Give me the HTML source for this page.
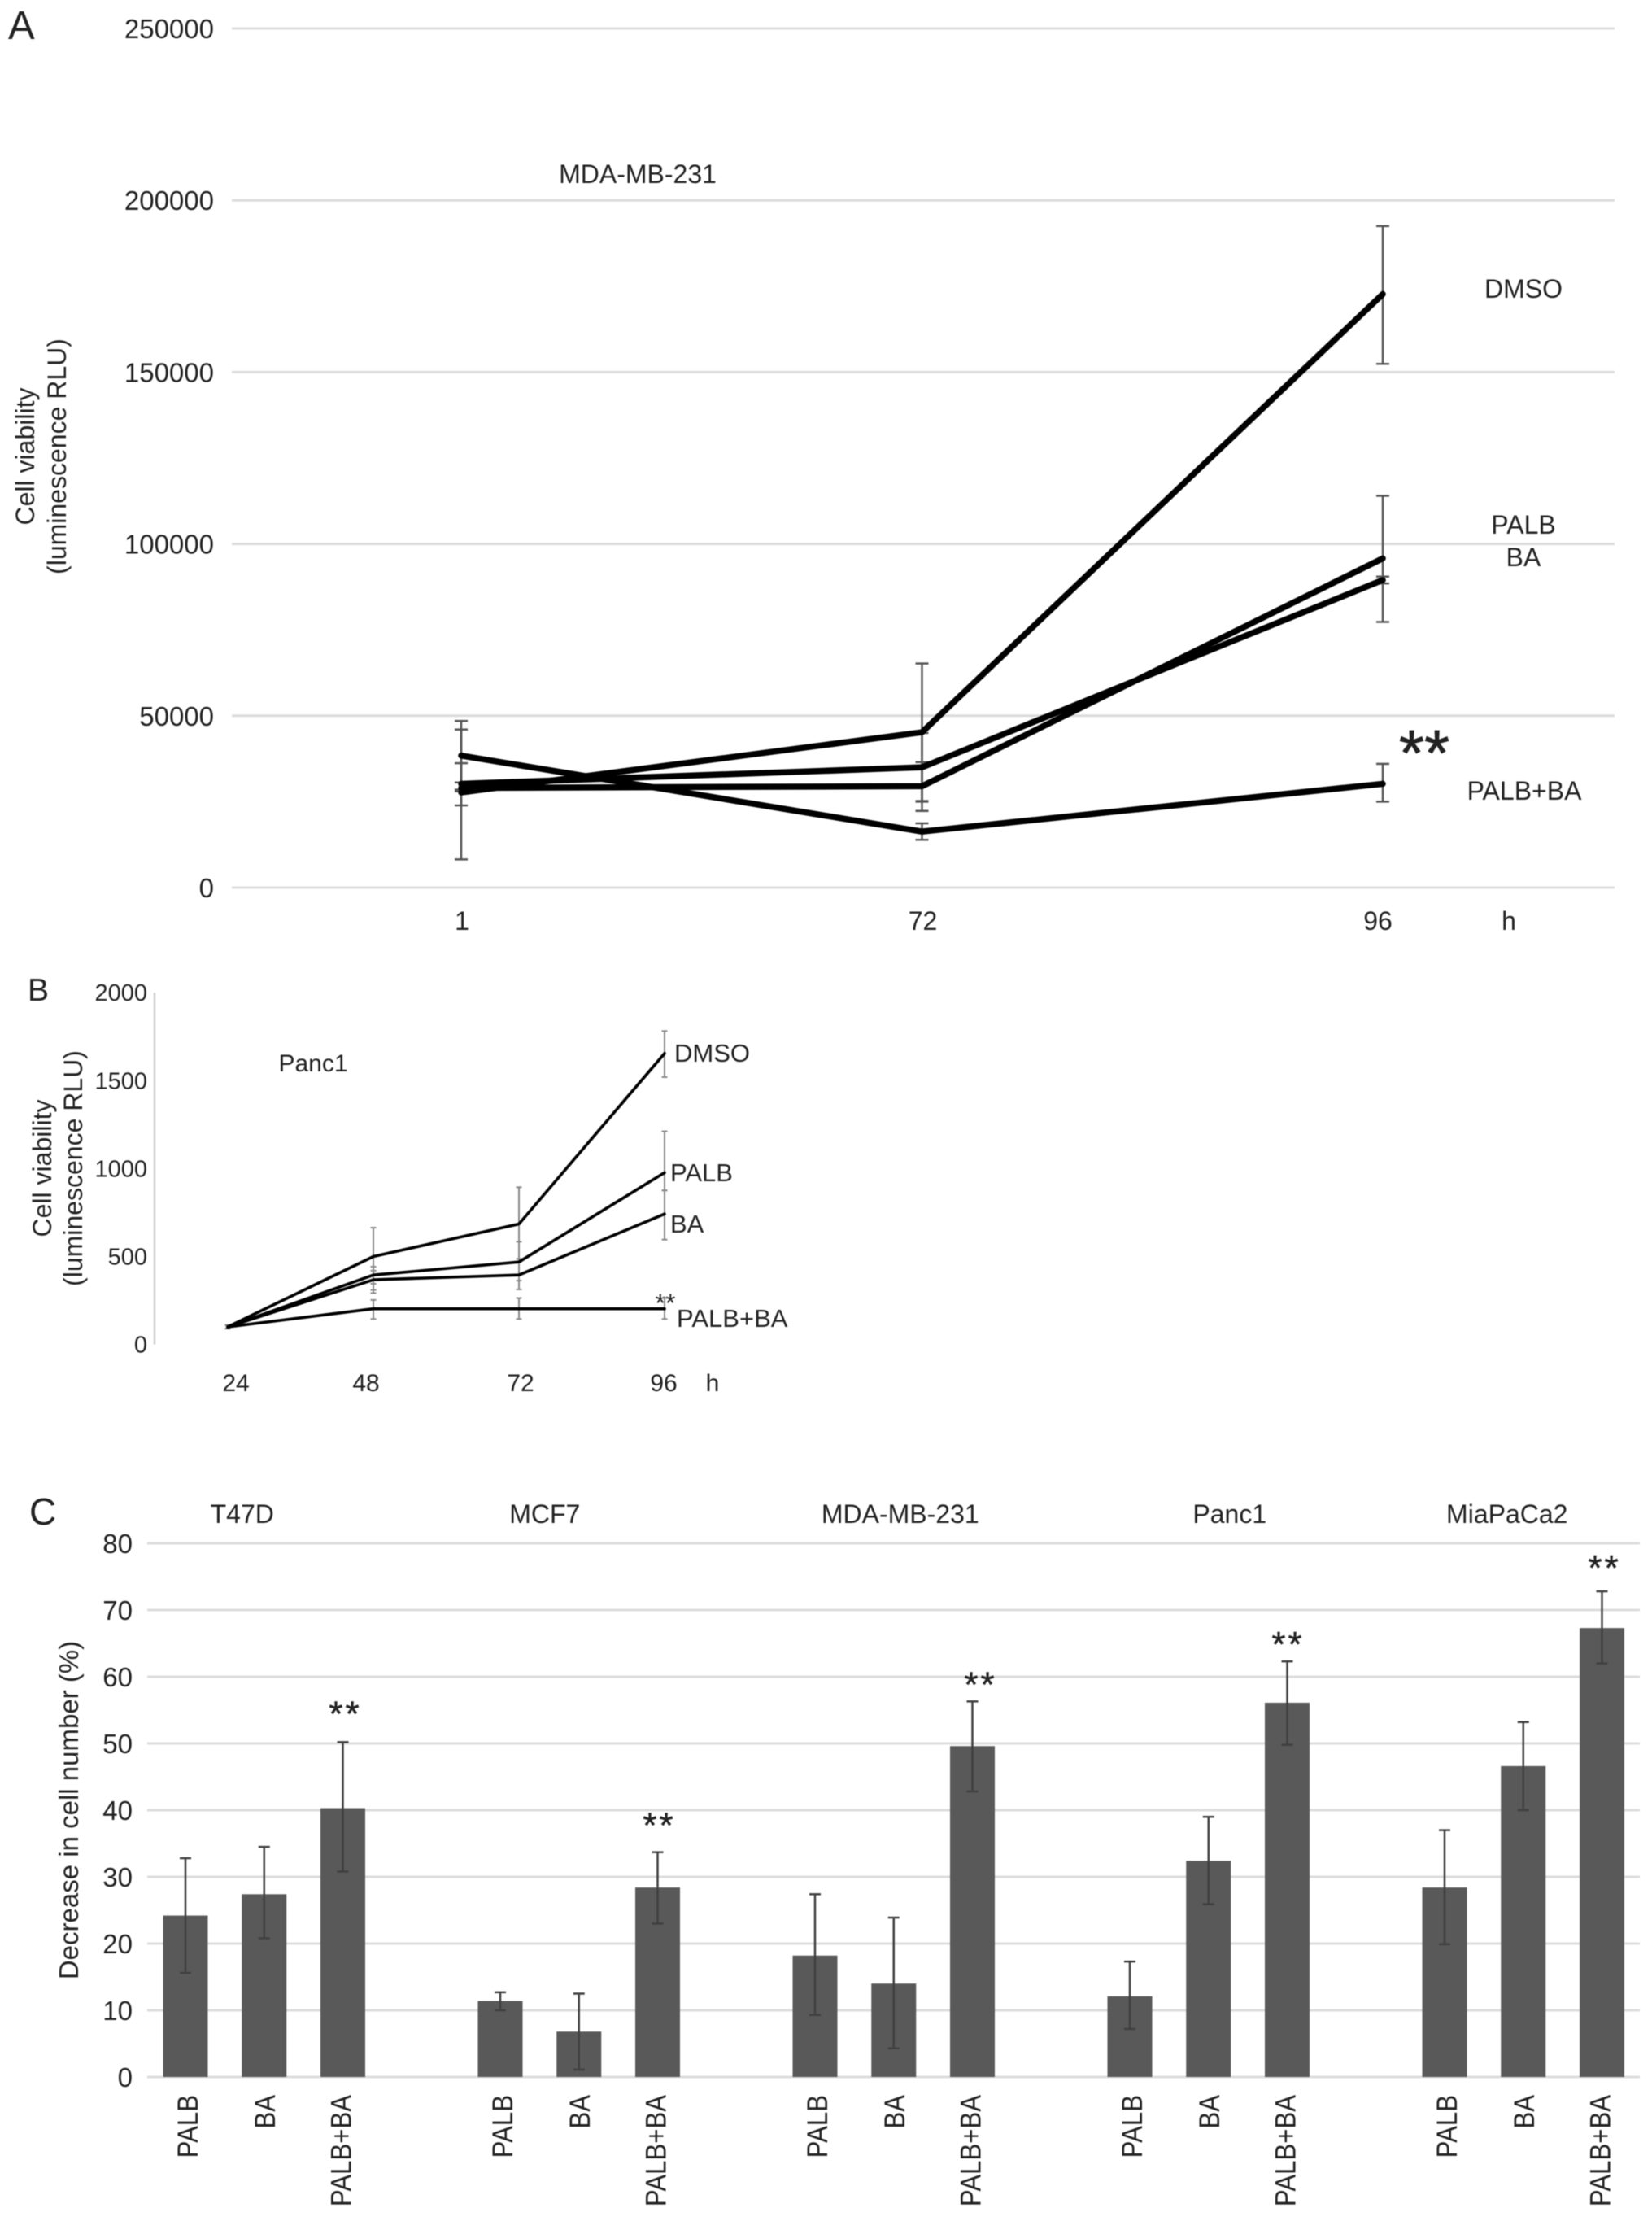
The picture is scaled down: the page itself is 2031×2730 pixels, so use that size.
<!DOCTYPE html>
<html lang="en">
<head>
<meta charset="utf-8">
<title>Cell viability and cell number charts</title>
<style>
  html, body { margin: 0; padding: 0; background: #fff; }
  svg { display: block; filter: blur(0.6px); }
  text { font-family: "Liberation Sans", Arial, sans-serif; fill: #222; }
</style>
</head>
<body>
<svg id="figure" xmlns="http://www.w3.org/2000/svg" width="2031" height="2730" viewBox="0 0 2031 2730">
  <rect x="0" y="0" width="2031" height="2730" fill="#fff"/>

  <g id="panelA">
    <text x="10" y="48" font-size="49">A</text>
    <text x="784" y="225" font-size="32" text-anchor="middle">MDA-MB-231</text>
    <text x="42" y="561" font-size="32" text-anchor="middle" transform="rotate(-90 42 561)">Cell viability</text>
    <text x="81" y="561" font-size="32" text-anchor="middle" transform="rotate(-90 81 561)">(luminescence RLU)</text>
    <text x="1873" y="366" font-size="32" text-anchor="middle">DMSO</text>
    <text x="1873" y="656" font-size="32" text-anchor="middle">PALB</text>
    <text x="1873" y="696" font-size="32" text-anchor="middle">BA</text>
    <text x="1874" y="983" font-size="32" text-anchor="middle">PALB+BA</text>
    <text x="1751" y="953" font-size="80" text-anchor="middle" stroke="#222" stroke-width="0.8">**</text>
    <text x="1855" y="1143" font-size="32" text-anchor="middle">h</text>
  </g>

  <g id="panelB">
    <text x="34" y="1230" font-size="39">B</text>
    <text x="385" y="1317" font-size="30" text-anchor="middle">Panc1</text>
    <text x="63" y="1436" font-size="32" text-anchor="middle" transform="rotate(-90 63 1436)">Cell viability</text>
    <text x="101" y="1436" font-size="32" text-anchor="middle" transform="rotate(-90 101 1436)">(luminescence RLU)</text>
    <text x="829" y="1305" font-size="31">DMSO</text>
    <text x="824" y="1452" font-size="31">PALB</text>
    <text x="824" y="1515" font-size="31">BA</text>
    <text x="832" y="1631" font-size="31">PALB+BA</text>
    <text x="818" y="1613" font-size="32" text-anchor="middle">**</text>
    <text x="876" y="1710" font-size="30" text-anchor="middle">h</text>
  </g>

  <g id="panelC">
    <text x="36" y="1874" font-size="46">C</text>
    <text x="96" y="2225" font-size="33" text-anchor="middle" transform="rotate(-90 96 2225)">Decrease in cell number (%)</text>
  </g>
</svg>

<script>
// ---------- Panel A data ----------
const aHours = ['1', '72', '96'];
const aTicks = [0, 50000, 100000, 150000, 200000, 250000];
const aDmso = [27700, 45200, 172700];
const aDmsoHigh = [46000, 65200, 192500];
const aDmsoLow = [8200, 25200, 152400];
const aPalb = [29000, 29500, 95800];
const aPalbHigh = [36200, 36500, 114000];
const aPalbLow = [23900, 22300, 77300];
const aBa = [30200, 35000, 89500];
const aBaHigh = [30600, 45000, 90500];
const aBaLow = [28000, 25000, 88500];
const aCombo = [38400, 16300, 30200];
const aComboHigh = [48500, 18700, 36000];
const aComboLow = [28500, 13900, 25000];

// ---------- Panel B data ----------
const bHours = ['24', '48', '72', '96'];
const bTicks = [0, 500, 1000, 1500, 2000];
const bDmso = [100, 500, 685, 1655];
const bDmsoHigh = [110, 664, 894, 1782];
const bDmsoLow = [90, 345, 487, 1520];
const bPalb = [100, 395, 469, 977];
const bPalbHigh = [110, 442, 584, 1212];
const bPalbLow = [90, 292, 313, 876];
const bBa = [100, 368, 395, 742];
const bBaHigh = [110, 420, 470, 876];
const bBaLow = [90, 310, 363, 596];
const bCombo = [100, 203, 203, 203];
const bComboHigh = [110, 253, 264, 264];
const bComboLow = [90, 145, 145, 145];

// ---------- Panel C data ----------
const cTicks = [0, 10, 20, 30, 40, 50, 60, 70, 80];
const cCellLines = ['T47D', 'MCF7', 'MDA-MB-231', 'Panc1', 'MiaPaCa2'];
const cTreatments = ['PALB', 'BA', 'PALB+BA'];
const cT47d = [24.2, 27.4, 40.3];
const cT47dHigh = [32.8, 34.5, 50.2];
const cT47dLow = [15.6, 20.8, 30.8];
const cMcf7 = [11.4, 6.8, 28.4];
const cMcf7High = [12.7, 12.5, 33.7];
const cMcf7Low = [10.0, 1.1, 23.0];
const cMda = [18.2, 14.0, 49.6];
const cMdaHigh = [27.4, 23.9, 56.3];
const cMdaLow = [9.3, 4.3, 42.8];
const cPanc1 = [12.1, 32.4, 56.1];
const cPanc1High = [17.3, 39.0, 62.3];
const cPanc1Low = [7.2, 25.9, 49.8];
const cMia = [28.4, 46.6, 67.3];
const cMiaHigh = [37.0, 53.2, 72.8];
const cMiaLow = [19.9, 40.0, 62.0];

const NS = 'http://www.w3.org/2000/svg';
function mk(tag, attrs, parent, content) {
  const el = document.createElementNS(NS, tag);
  for (const k in attrs) el.setAttribute(k, attrs[k]);
  if (content !== undefined) el.textContent = content;
  parent.appendChild(el);
  return el;
}

// Shared line-series painter
function drawSeries(parent, prefix, key, xFn, yFn, values, high, low, lineW, errColor, errW, capW) {
  const errGroup = mk('g', {}, parent);
  
  
  values.forEach(function (v, i) {
    const x = xFn(i);
    const stem = mk('line', { x1: x, x2: x, y1: yFn(high[i]), y2: yFn(low[i]), stroke: errColor, 'stroke-width': errW }, errGroup);
    
    
    [high[i], low[i]].forEach(function (c) {
      const cap = mk('line', { x1: x - capW / 2, x2: x + capW / 2, y1: yFn(c), y2: yFn(c), stroke: errColor, 'stroke-width': errW }, errGroup);
      
      
    });
  });
  return function () {
    const pts = values.map(function (v, i) { return xFn(i) + ',' + yFn(v); }).join(' ');
    const line = mk('polyline', { points: pts, fill: 'none', stroke: '#000', 'stroke-width': lineW, 'stroke-linejoin': 'round', 'stroke-linecap': 'round' }, parent);
    
    
  };
}

// ---------- Panel A ----------
(function () {
  const g = document.getElementById('panelA');
  const yA = function (v) { return 1091 - v / 250000 * 1056; };
  const xA = function (i) { return 567 + i * 566.5; };
  const labelNudge = [1, 1, -6];
  aTicks.forEach(function (t) {
    const grid = mk('line', { x1: 285, x2: 1985, y1: yA(t), y2: yA(t), stroke: '#dcdcdc', 'stroke-width': 3 }, g);
    
    
    const lab = mk('text', { x: 263, y: yA(t) + 12, 'font-size': 33, 'text-anchor': 'end' }, g, String(t));
    
    
  });
  aHours.forEach(function (h, i) {
    const lab = mk('text', { x: xA(i) + labelNudge[i], y: 1143, 'font-size': 32, 'text-anchor': 'middle' }, g, h);
    
    
  });
  const painters = [
    drawSeries(g, 'panel-a', 'dmso', xA, yA, aDmso, aDmsoHigh, aDmsoLow, 7.5, '#555', 2.5, 16),
    drawSeries(g, 'panel-a', 'palb', xA, yA, aPalb, aPalbHigh, aPalbLow, 7.5, '#555', 2.5, 16),
    drawSeries(g, 'panel-a', 'ba', xA, yA, aBa, aBaHigh, aBaLow, 7.5, '#555', 2.5, 16),
    drawSeries(g, 'panel-a', 'palb-ba', xA, yA, aCombo, aComboHigh, aComboLow, 7.5, '#555', 2.5, 16)
  ];
  painters.forEach(function (p) { p(); });
})();

// ---------- Panel B ----------
(function () {
  const g = document.getElementById('panelB');
  const yB = function (v) { return 1652.6 - v * 0.2162; };
  const xB = function (i) { return 280 + i * 179; };
  const labelNudge = [10, -9, 2, -1];
  const axis = mk('line', { x1: 190, x2: 190, y1: yB(2000), y2: yB(0), stroke: '#cfcfcf', 'stroke-width': 2.5 }, g);
  
  
  bTicks.forEach(function (t) {
    const lab = mk('text', { x: 181, y: yB(t) + 10, 'font-size': 29, 'text-anchor': 'end' }, g, String(t));
    
    
  });
  bHours.forEach(function (h, i) {
    const lab = mk('text', { x: xB(i) + labelNudge[i], y: 1710, 'font-size': 30, 'text-anchor': 'middle' }, g, h);
    
    
  });
  const painters = [
    drawSeries(g, 'panel-b', 'dmso', xB, yB, bDmso, bDmsoHigh, bDmsoLow, 3.6, '#8a8a8a', 2, 7),
    drawSeries(g, 'panel-b', 'palb', xB, yB, bPalb, bPalbHigh, bPalbLow, 3.6, '#8a8a8a', 2, 7),
    drawSeries(g, 'panel-b', 'ba', xB, yB, bBa, bBaHigh, bBaLow, 3.6, '#8a8a8a', 2, 7),
    drawSeries(g, 'panel-b', 'palb-ba', xB, yB, bCombo, bComboHigh, bComboLow, 3.6, '#8a8a8a', 2, 7)
  ];
  painters.forEach(function (p) { p(); });
})();

// ---------- Panel C ----------
(function () {
  const g = document.getElementById('panelC');
  const yC = function (v) { return 2553 - v / 80 * 656; };
  const slot = function (groupIndex, barIndex) { return groupIndex * 4 + barIndex; };
  const xC = function (s) { return 228 + s * 96.75; };
  const groupValues = [cT47d, cMcf7, cMda, cPanc1, cMia];
  const groupHigh = [cT47dHigh, cMcf7High, cMdaHigh, cPanc1High, cMiaHigh];
  const groupLow = [cT47dLow, cMcf7Low, cMdaLow, cPanc1Low, cMiaLow];
  const titleNudge = [-27, -42, 8, 26, -20];
  const starGap = [43, 41, 29, 29, 37];
  const starNudge = [3, 2, 10, 1, 3];
  const labelOffset = [15, 13, 10];

  cTicks.forEach(function (t) {
    const grid = mk('line', { x1: 181, x2: 2016, y1: yC(t), y2: yC(t), stroke: '#dcdcdc', 'stroke-width': 3 }, g);
    
    
    const lab = mk('text', { x: 163, y: yC(t) + 12, 'font-size': 33, 'text-anchor': 'end' }, g, String(t));
    
    
  });

  cCellLines.forEach(function (name, gi) {
    const xMid = xC(slot(gi, 1));
    const title = mk('text', { x: xMid + titleNudge[gi], y: 1872, 'font-size': 32, 'text-anchor': 'middle' }, g, name);
    
    

    cTreatments.forEach(function (tr, bi) {
      const x = xC(slot(gi, bi));
      const v = groupValues[gi][bi];
      const hi = groupHigh[gi][bi];
      const lo = groupLow[gi][bi];
      const bar = mk('rect', { x: x - 27.5, y: yC(v), width: 55, height: yC(0) - yC(v), fill: '#595959' }, g);
      
      
      const stem = mk('line', { x1: x, x2: x, y1: yC(hi), y2: yC(lo), stroke: '#404040', 'stroke-width': 2.5 }, g);
      
      
      [hi, lo].forEach(function (c) {
        const cap = mk('line', { x1: x - 7, x2: x + 7, y1: yC(c), y2: yC(c), stroke: '#404040', 'stroke-width': 2.5 }, g);
        
        
      });
      const lx = x + labelOffset[bi];
      const lab = mk('text', { x: 0, y: 0, 'font-size': 35, 'text-anchor': 'end', transform: 'translate(' + lx + ' 2575) rotate(-90) scale(0.89 1)' }, g, tr);
      
      
      if (bi === 2) {
        const star = mk('text', { x: x + starNudge[gi], y: yC(hi) - starGap[gi] + 23, 'font-size': 44, 'text-anchor': 'middle', 'letter-spacing': 3, stroke: '#222', 'stroke-width': 0.5 }, g, '**');
        
        
      }
    });
  });
})();
</script>
</body>
</html>
